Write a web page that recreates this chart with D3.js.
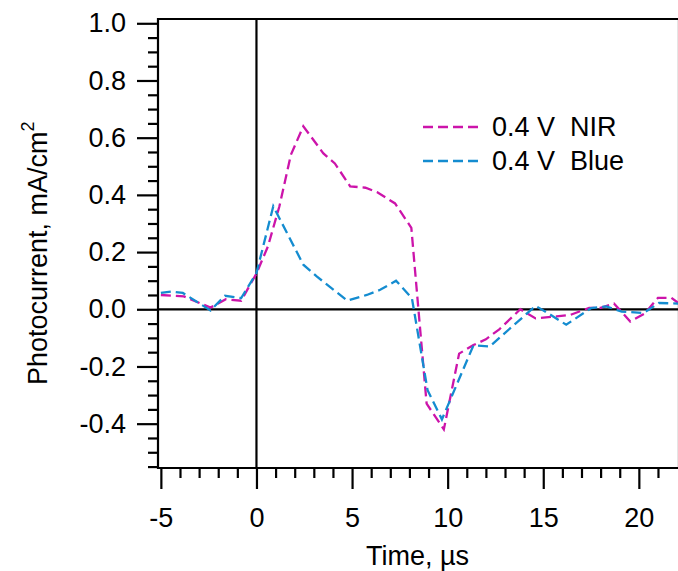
<!DOCTYPE html>
<html>
<head>
<meta charset="utf-8">
<script src="https://cdn.jsdelivr.net/npm/d3@7"></script>
<style>
    body { margin: 0; background: #fff; }
    svg text { font-family: "Liberation Sans", Arial, sans-serif; fill: #000; }
</style>
</head>
<body>
<div id="chart"></div>
<script>
// values
let nirTime = [-5.0, -3.8, -2.4, -1.6, -0.8, 0.0, 0.6, 1.2, 1.8, 2.45, 3.5, 4.1, 4.9, 5.7, 6.3, 7.25, 8.1, 8.9, 9.8,
    10.6, 11.35, 12.0, 12.7, 13.8, 14.6, 15.7, 16.4, 17.4, 18.0, 18.7, 19.55, 20.3, 21.0, 21.7, 22.1];
let nirValue = [0.050, 0.045, 0.006, 0.035, 0.030, 0.125, 0.22, 0.36, 0.54, 0.64, 0.545, 0.51, 0.43, 0.425, 0.41, 0.37, 0.285, -0.33, -0.42,
    -0.155, -0.125, -0.105, -0.07, 0.0, -0.032, -0.025, -0.02, 0.005, 0.005, 0.02, -0.043, -0.015, 0.04, 0.04, 0.02];

let blueTime = [-5.0, -4.45, -3.85, -2.4, -1.65, -0.8, 0.0, 0.88, 2.45, 3.15, 4.75, 5.77, 6.47, 7.3, 8.13, 8.95, 9.7,
    11.35, 12.2, 14.6, 15.4, 16.2, 17.5, 18.3, 19.1, 20.25, 21.05, 22.1];
let blueValue = [0.057, 0.062, 0.057, -0.004, 0.047, 0.039, 0.127, 0.36, 0.156, 0.115, 0.03, 0.05, 0.068, 0.1, 0.039, -0.283, -0.385,
    -0.126, -0.13, 0.012, -0.02, -0.054, 0.004, 0.01, -0.008, -0.013, 0.022, 0.02];

let seriesNames = ["0.4 V\u00a0 NIR", "0.4 V\u00a0 Blue"];
let seriesColors = ["#cc14aa", "#148cd0"];

let xMajor = [-5, 0, 5, 10, 15, 20];
let yMajor = [-0.4, -0.2, 0.0, 0.2, 0.4, 0.6, 0.8, 1.0];

let WIDTH = 678, HEIGHT = 571;
let LEFT = 158, RIGHT = 679, TOP = 19, BOTTOM = 468;

let x = d3.scaleLinear().domain([-5.15, 22.1]).range([LEFT, RIGHT]);
let y = d3.scaleLinear().domain([-0.555, 1.015]).range([BOTTOM, TOP]);

// plain hyphen for negatives, like the original
let hyphen = f => (d => f(d).replace("\u2212", "-"));

let svg = d3.select("#chart")
    .append("svg")
    .attr("width", WIDTH)
    .attr("height", HEIGHT);

// minor ticks
let xMinor = d3.range(-5, 22, 1).filter(d => d % 5 != 0);
let yMinor = d3.range(-11, 21).map(d => d * 0.05).filter(d => Math.abs(Math.round(d * 20) % 4) != 0);

svg.append("g")
    .attr("transform", `translate(0,${BOTTOM})`)
    .call(d3.axisBottom(x).tickValues(xMinor).tickSize(10).tickSizeOuter(0).tickFormat(""));

svg.append("g")
    .attr("transform", `translate(${LEFT},0)`)
    .call(d3.axisLeft(y).tickValues(yMinor).tickSize(10).tickSizeOuter(0).tickFormat(""));

// major ticks + labels
svg.append("g")
    .attr("transform", `translate(0,${BOTTOM})`)
    .call(d3.axisBottom(x).tickValues(xMajor).tickSize(21).tickPadding(19).tickSizeOuter(0)
        .tickFormat(hyphen(d3.format("d"))));

svg.append("g")
    .attr("transform", `translate(${LEFT},0)`)
    .call(d3.axisLeft(y).tickValues(yMajor).tickSize(21).tickPadding(11).tickSizeOuter(0)
        .tickFormat(hyphen(d3.format(".1f"))));

svg.selectAll(".tick line").attr("stroke", "#000").attr("stroke-width", 2.2);
svg.selectAll(".domain").remove();
svg.selectAll(".tick text").style("font-size", "27px").attr("fill", "#000");

// frame and zero lines
let frame = [
    [LEFT, TOP, RIGHT, TOP],
    [LEFT, TOP - 1, LEFT, BOTTOM + 1],
    [LEFT, BOTTOM, RIGHT, BOTTOM],
    [RIGHT, TOP, RIGHT, BOTTOM],
    [x(0), TOP, x(0), BOTTOM],
    [LEFT, y(0), RIGHT, y(0)]
];
svg.selectAll(".frame")
    .data(frame)
    .enter()
    .append("line")
    .classed("frame", true)
    .attr("x1", d => d[0]).attr("y1", d => d[1])
    .attr("x2", d => d[2]).attr("y2", d => d[3])
    .attr("stroke", "#000")
    .attr("stroke-width", 2.2);

// curves
let line = d3.line()
    .x(d => x(d[0]))
    .y(d => y(d[1]));

let series = [
    d3.zip(nirTime, nirValue),
    d3.zip(blueTime, blueValue)
];

svg.selectAll(".curve")
    .data(series)
    .enter()
    .append("path")
    .classed("curve", true)
    .attr("d", line)
    .attr("fill", "none")
    .attr("stroke", (d, i) => seriesColors[i])
    .attr("stroke-width", 2.3)
    .attr("stroke-dasharray", "10,5");

// legend
let legend = svg.append("g").attr("transform", "translate(423,127)");
seriesNames.forEach((name, i) => {
    legend.append("line")
        .attr("x1", 0).attr("x2", 55)
        .attr("y1", i * 34).attr("y2", i * 34)
        .attr("stroke", seriesColors[i])
        .attr("stroke-width", 2.3)
        .attr("stroke-dasharray", "10,5");
    legend.append("text")
        .attr("x", 69)
        .attr("y", i * 34 + 9)
        .style("font-size", "27px")
        .text(name);
});

// axis titles
svg.append("text")
    .attr("x", (LEFT + RIGHT) / 2 - 1)
    .attr("y", 565)
    .attr("text-anchor", "middle")
    .style("font-size", "27px")
    .text("Time, \u00b5s");

let yTitle = svg.append("text")
    .attr("transform", "translate(47,385) rotate(-90)")
    .style("font-size", "27px");
yTitle.append("tspan").text("Photocurrent, mA/cm");
yTitle.append("tspan").attr("dy", -13).style("font-size", "18px").text("2");
</script>
</body>
</html>
